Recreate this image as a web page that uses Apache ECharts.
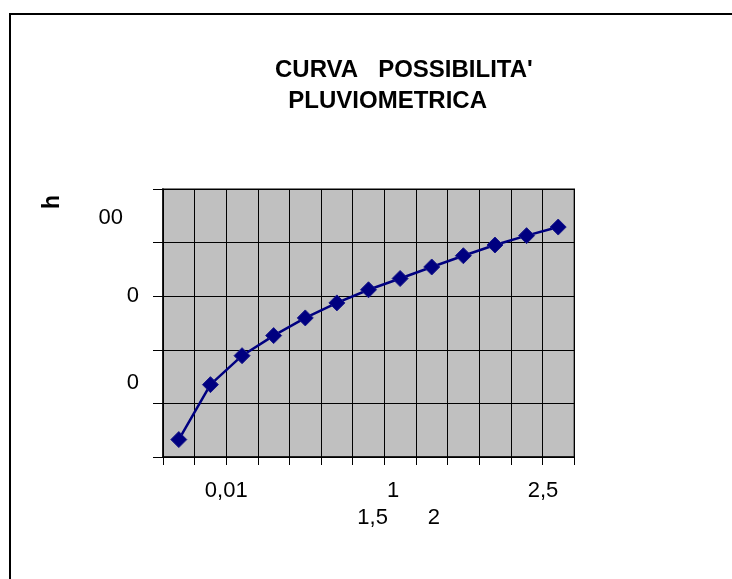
<!DOCTYPE html>
<html>
<head>
<meta charset="utf-8">
<script src="https://cdn.jsdelivr.net/npm/echarts@6/dist/echarts.min.js"></script>
<style>
  html, body { margin: 0; padding: 0; background: #fff; }
</style>
</head>
<body>
<div id="chart" style="width: 732px; height: 579px"></div>
<script>
// categorie (durate) e altezze di pioggia
const categories = ["1", "2", "3", "4", "5", "6", "7", "8", "9", "10", "11", "12", "13"];
const heights = [6.5, 27.0, 37.8, 45.3, 51.9, 57.5, 62.4, 66.6, 70.9, 75.1, 79.1, 82.6, 85.8];

// etichette degli assi come appaiono (tagliate) nell'originale
const xRow1Pos = [2, 7.28, 12.02];
const xRow1Text = ["0,01", "1", "2,5"];
const xRow2Pos = [6.63, 8.57];
const xRow2Text = ["1,5", "2"];
const yLabelPos = [89.3, 60, 27.7];
const yLabelText = ["00", "0", "0"];

const FONT = "Liberation Sans, Arial, sans-serif";

const myChart = echarts.init(document.getElementById("chart"));

let option = {
  backgroundColor: "#fff",
  animation: false,
  title: {
    text: "CURVA   POSSIBILITA'\n  PLUVIOMETRICA",
    left: 275,
    top: 55,
    padding: 0,
    textStyle: {
      fontFamily: FONT,
      fontSize: 24,
      fontWeight: "bold",
      lineHeight: 31,
      color: "#000",
    },
  },
  // cornice esterna e titolo dell'asse
  graphic: [
    {
      type: "rect",
      shape: { x: 10, y: 14, width: 800, height: 700 },
      style: { fill: "none", stroke: "#000", lineWidth: 2 },
      silent: true,
    },
    {
      type: "text",
      x: 53,
      y: 202,
      rotation: Math.PI / 2,
      style: {
        text: "h",
        fontFamily: FONT,
        fontSize: 23,
        fontWeight: "bold",
        fill: "#000",
        align: "center",
        verticalAlign: "middle",
      },
    },
  ],
  grid: {
    left: 163,
    top: 189,
    width: 411,
    height: 268,
    show: true,
    backgroundColor: "#c0c0c0",
    borderColor: "#808080",
    borderWidth: 2,
  },
  xAxis: [
    {
      type: "category",
      data: categories,
      boundaryGap: true,
      axisLine: { show: true, lineStyle: { color: "#000", width: 1.5 } },
      axisTick: { show: true, length: 8, lineStyle: { color: "#000" } },
      axisLabel: { show: false },
      splitLine: { show: true, lineStyle: { color: "#000", width: 1 } },
    },
    {
      type: "value",
      min: 0,
      max: 13,
      position: "bottom",
      axisLine: { show: false },
      axisTick: { show: false },
      splitLine: { show: false },
      axisLabel: {
        customValues: xRow1Pos,
        formatter: (v) => xRow1Text[xRow1Pos.indexOf(v)],
        margin: 23,
        fontFamily: FONT,
        fontSize: 22,
        color: "#000",
      },
    },
    {
      type: "value",
      min: 0,
      max: 13,
      position: "bottom",
      axisLine: { show: false },
      axisTick: { show: false },
      splitLine: { show: false },
      axisLabel: {
        customValues: xRow2Pos,
        formatter: (v) => xRow2Text[xRow2Pos.indexOf(v)],
        margin: 50,
        fontFamily: FONT,
        fontSize: 22,
        color: "#000",
      },
    },
  ],
  yAxis: [
    {
      type: "value",
      min: 0,
      max: 100,
      interval: 20,
      position: "left",
      axisLine: { show: true, lineStyle: { color: "#000", width: 1.5 } },
      axisTick: { show: true, length: 10, lineStyle: { color: "#000" } },
      axisLabel: { show: false },
      splitLine: { show: true, lineStyle: { color: "#000", width: 1 } },
    },
    {
      type: "value",
      min: 0,
      max: 100,
      position: "left",
      axisLine: { show: false },
      axisTick: { show: false },
      splitLine: { show: false },
      axisLabel: {
        customValues: yLabelPos,
        formatter: (v) => {
          let t = yLabelText[yLabelPos.indexOf(v)];
          return t.length > 1 ? "{w|" + t + "}" : t;
        },
        margin: 24,
        fontFamily: FONT,
        fontSize: 22,
        color: "#000",
        rich: {
          w: { fontFamily: FONT, fontSize: 22, color: "#000", padding: [0, 16, 0, 0] },
        },
      },
    },
  ],
  series: [
    {
      type: "line",
      data: heights,
      xAxisIndex: 0,
      yAxisIndex: 0,
      symbol: "diamond",
      symbolSize: 16,
      lineStyle: { color: "#000080", width: 2.5 },
      itemStyle: { color: "#000080", borderColor: "#1a1a8c", borderWidth: 1 },
    },
  ],
};

option && myChart.setOption(option);
</script>
</body>
</html>
